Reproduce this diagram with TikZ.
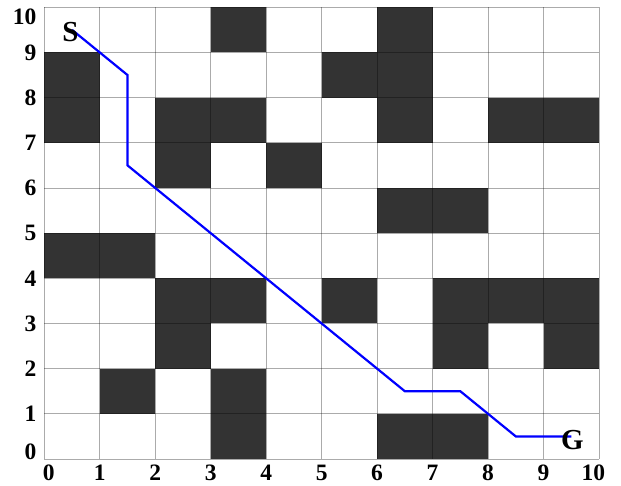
\documentclass[tikz,border=0pt]{standalone}
\usepackage{fontspec}
\setmainfont{Liberation Serif}
\begin{document}
\begin{tikzpicture}[x=55.47pt,y=45.17pt,
  obst/.style={fill=black!80},
  gridln/.style={draw=black,opacity=0.33,line width=0.9pt},
  route/.style={draw=blue,line width=2.2pt,line join=miter},
  ticklab/.style={font=\fontsize{23.5}{23.5}\selectfont\bfseries,inner sep=0pt},
  endlab/.style={font=\fontsize{29}{29}\selectfont\bfseries,inner sep=0pt}]
\useasboundingbox (-44.3pt,-27pt) rectangle (576.7pt,459pt);
% obstacles
\foreach \c/\r in {3/9,6/9, 0/8,5/8,6/8, 0/7,2/7,3/7,6/7,8/7,9/7, 2/6,4/6, 6/5,7/5, 0/4,1/4, 2/3,3/3,5/3,7/3,8/3,9/3, 2/2,7/2,9/2, 1/1,3/1, 3/0,6/0,7/0}
  \fill[obst] (\c,\r) rectangle ++(1,1);
% grid
\foreach \i in {0,...,10} {
  \draw[gridln] (\i,0) -- (\i,10);
  \draw[gridln] (0,\i) -- (10,\i);
}
% axis labels
\foreach \i in {1,...,9} {
  \node[ticklab,anchor=east] (y\i) at (-0.14,\i) {\i};
  \node[ticklab] (x\i) at (\i,-0.3) {\i};
}
\node[ticklab,anchor=east] (y10) at (-0.14,9.78) {10};
\node[ticklab,anchor=east] (y0) at (-0.14,0.15) {0};
\node[ticklab] (x0) at (0.08,-0.3) {0};
\node[ticklab] (x10) at (9.9,-0.3) {10};
% route
\coordinate (p0) at (0.5,9.5);
\coordinate (p1) at (1.5,8.5);
\coordinate (p2) at (1.5,6.5);
\coordinate (p3) at (6.5,1.5);
\coordinate (p4) at (7.5,1.5);
\coordinate (p5) at (8.5,0.5);
\coordinate (p6) at (9.5,0.5);
\draw[route] (p0) -- (p1) -- (p2) -- (p3) -- (p4) -- (p5) -- (p6);
\node[endlab] (S) at (0.47,9.46) {S};
\node[endlab] (G) at (9.52,0.42) {G};
\end{tikzpicture}
\end{document}
